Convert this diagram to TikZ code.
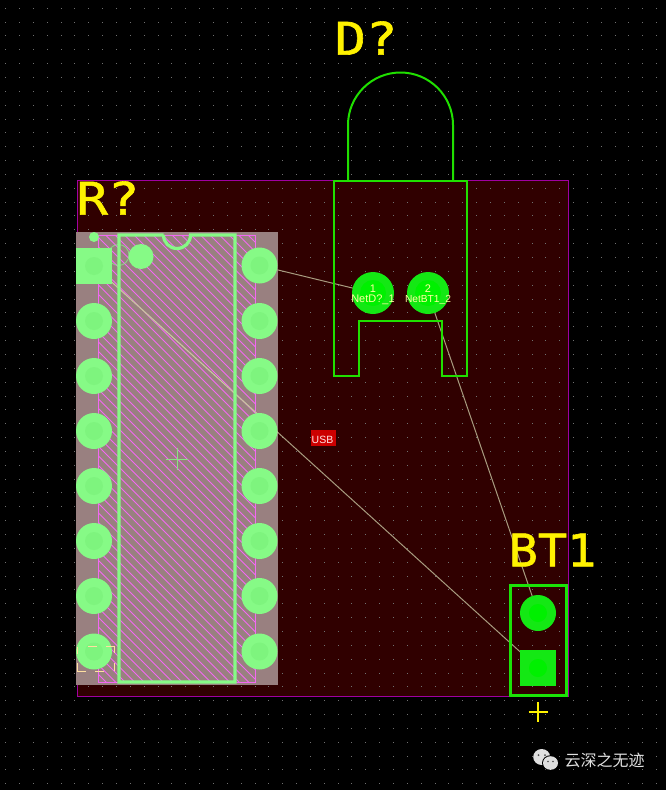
\documentclass[tikz,border=0pt]{standalone}
\usepackage{fontspec}
\setmainfont{Liberation Sans}
\newfontfamily\refdes[FakeStretch=1.16,FakeBold=1.3]{DejaVu Sans Mono}
\newfontfamily\cjkfont{Noto Sans CJK SC}
\definecolor{board}{HTML}{300000}
\definecolor{edge}{HTML}{A000A0}
\definecolor{griddot}{HTML}{707070}
\definecolor{keep}{HTML}{998080}
\definecolor{hatch}{HTML}{F268F2}
\definecolor{ltgreen}{HTML}{86FA86}
\definecolor{lthole}{HTML}{7EF47E}
\definecolor{green}{HTML}{14E814}
\definecolor{greenhole}{HTML}{00F000}
\definecolor{ledline}{HTML}{20E000}
\definecolor{rats}{HTML}{A89C80}
\definecolor{ratslight}{HTML}{CCC4A4}
\definecolor{cream}{HTML}{FFE0A0}
\definecolor{netlabel}{HTML}{FFFFA0}
\tikzset{
  x=1pt,y=-1pt,
  nosep/.style={inner sep=0pt,outer sep=0pt,anchor=center},
  bigtext/.style={nosep,text=yellow,font=\refdes\fontsize{45}{45}\selectfont},
  netname/.style={nosep,text=netlabel},
  ltpad/.style={nosep,circle,fill=ltgreen,minimum size=36pt},
  ltsq/.style={nosep,rectangle,fill=ltgreen,minimum size=36pt},
  grnpad/.style={nosep,circle,fill=green,minimum size=42pt},
  btpad/.style={nosep,circle,fill=green,minimum size=36pt},
  btsq/.style={nosep,rectangle,fill=green,minimum size=36pt},
  ratsline/.style={draw=rats,line width=1pt},
  ledstroke/.style={draw=ledline,line width=2pt},
}
\begin{document}
\begin{tikzpicture}
\useasboundingbox (0,0) rectangle (666,790);
\fill[black] (0,0) rectangle (666,790);
% board
\fill[board] (77.5,180.5) rectangle (568.5,696);
% grid dots
\foreach \i in {0,...,47}{
  \foreach \j in {0,...,56}{
    \fill[griddot] ({5.6+13.85*\i-0.4},{8.1+13.85*\j-0.4}) rectangle ++(0.8,0.8);
  }
}
\draw[edge,line width=1pt] (77.5,180.5) rectangle (568.5,696);
% keep-out / component body
\fill[keep] (76,232) rectangle (278,685);
\begin{scope}
  \clip (98.5,235.5) rectangle (255,682);
  \foreach \k in {-360,-350.5,...,270}{
    \draw[hatch,line width=1pt] (\k,235) -- ({\k+448},683);
  }
\end{scope}
\draw[hatch,line width=1pt] (98.5,235.5) rectangle (255,682);
% ratsnest
\coordinate (a1) at (94,266);
\coordinate (a16) at (259.5,265.5);
\coordinate (ad1) at (373,293);
\coordinate (ad2) at (428,293);
\coordinate (ab1) at (538,613);
\coordinate (ab2) at (538,668);
\draw[ratsline] (a16) -- (ad1);
\draw[ratsline] (ad2) -- (ab1);
\draw[ratsline] (a1) -- (ab2);
\begin{scope}
  \clip (76,232) rectangle (278,685);
  \draw[draw=ratslight,line width=1pt] (a1) -- (ab2);
\end{scope}
% pads
\node[ltsq] (r1) at (a1) {};
\node[ltpad] (r2) at (94,321) {};
\node[ltpad] (r3) at (94,376) {};
\node[ltpad] (r4) at (94,431) {};
\node[ltpad] (r5) at (94,486) {};
\node[ltpad] (r6) at (94,541) {};
\node[ltpad] (r7) at (94,596) {};
\node[ltpad] (r8) at (94,651.5) {};
\node[ltpad] (r9) at (259.5,651.5) {};
\node[ltpad] (r10) at (259.5,596) {};
\node[ltpad] (r11) at (259.5,541) {};
\node[ltpad] (r12) at (259.5,486) {};
\node[ltpad] (r13) at (259.5,431) {};
\node[ltpad] (r14) at (259.5,376) {};
\node[ltpad] (r15) at (259.5,321) {};
\node[ltpad] (r16) at (a16) {};
\foreach \n in {r1,r2,r3,r4,r5,r6,r7,r8,r9,r10,r11,r12,r13,r14,r15,r16}{
  \fill[lthole] (\n.center) circle (9);
}
% chip silk
\draw[ltgreen,line width=0.8pt,opacity=.7] (118.5,255) circle (10.5);
\draw[ltgreen,line width=3.2pt] (163.5,235) -- (119,235) -- (119,682) -- (235,682) -- (235,235) -- (190.5,235)
  .. controls (190.5,242.5) and (184.5,248.5) .. (177,248.5)
  .. controls (169.5,248.5) and (163.5,242.5) .. (163.5,235);
\fill[ltgreen] (94,237) circle (5);
\fill[ltgreen] (141,256.5) circle (12.5);
\draw[ltgreen!80!keep,line width=0.8pt] (166,459) -- (188,459) (177,448) -- (177,470);
% LED
\draw[ledstroke] (334,180.5) -- (467,180.5) -- (467,376) -- (442,376) -- (442,321) -- (359,321) -- (359,376) -- (334,376) -- cycle;
\draw[ledstroke] (348,180.5) -- (348,125) .. controls (348,96) and (371.5,72.5) .. (400.5,72.5)
  .. controls (429.5,72.5) and (453,96) .. (453,125) -- (453,180.5);
\node[grnpad] (d1) at (ad1) {};
\node[grnpad] (d2) at (ad2) {};
\fill[greenhole] (d1.center) circle (13);
\fill[greenhole] (d2.center) circle (13);
% BT1
\draw[draw=ledline!60!green,line width=3.5pt] (510.5,585.5) rectangle (566.5,695.5);
\node[btpad] (b1) at (ab1) {};
\node[btsq] (b2) at (ab2) {};
\fill[greenhole] (b1.center) circle (9);
\fill[greenhole] (b2.center) circle (9);
% pad labels
\node[netname,font=\fontsize{11}{11}\selectfont] (t1) at (373,288.5) {1};
\node[netname,font=\fontsize{11}{11}\selectfont] (t2) at (373,300) {NetD?\_1};
\node[netname,font=\fontsize{11}{11}\selectfont] (t3) at (428,288.5) {2};
\node[netname,font=\fontsize{10.2}{10.2}\selectfont] (t4) at (428,299.5) {NetBT1\_2};
% dashed origin marker
\draw[cream,line width=1pt]
  (88,646.7) -- (97,646.7) (106,646.7) -- (114.5,646.7) -- (114.5,653)
  (114.5,663) -- (114.5,671.3) (104,671.3) -- (95,671.3) (86,671.3) -- (77.5,671.3) -- (77.5,663)
  (77.5,654) -- (77.5,646.7);
% USB
\fill[red!80!black] (311,430) rectangle (336,446);
\node[nosep,text=white!90!red,font=\fontsize{10.5}{10.5}\selectfont] (usb) at (322.5,440) {USB};
% designators
\node[bigtext] (rq) at (108,198) {R?};
\node[bigtext] (dq) at (366,38) {D?};
\node[bigtext,xscale=.93] (bt) at (552.5,550) {BT1};
% origin cross
\draw[yellow,line width=1.5pt] (528.5,712) -- (547.5,712) (538,702) -- (538,722);
% watermark
\fill[white!88!black] (541.7,757) ellipse (8.5 and 8);
\fill[black] (550.5,763) ellipse (8.5 and 7.8);
\fill[white!88!black] (550.5,763) ellipse (7.5 and 6.8);
\fill[black!70] (538.5,755) circle (1) (545,755) circle (1) (548,761.5) circle (0.9) (553,761.5) circle (0.9);
\node[nosep,anchor=west,text=white!88!black,font=\cjkfont\fontsize{16}{16}\selectfont] (wm) at (564.5,760) {云深之无迹};
\end{tikzpicture}
\end{document}
